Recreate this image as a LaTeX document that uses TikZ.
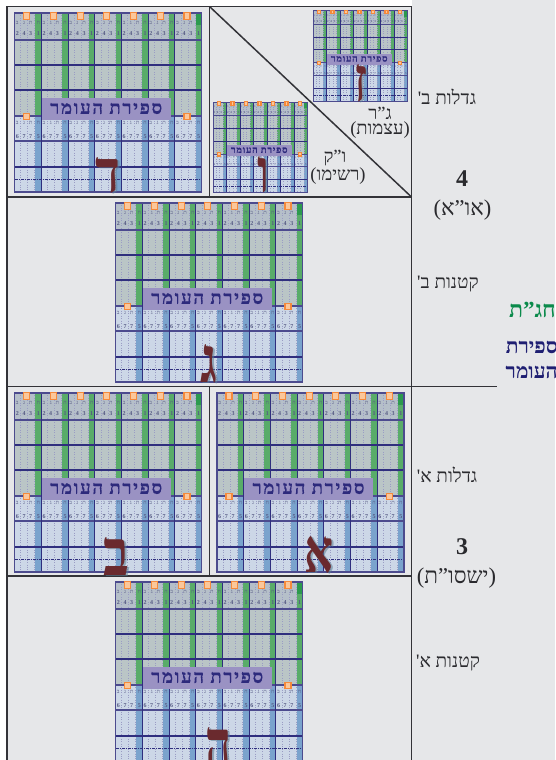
\documentclass[tikz,border=0pt]{standalone}
\usepackage{fontspec}
\usepackage{graphicx}
\TeXXeTstate=1
\newfontfamily\heb[Script=Hebrew]{Liberation Serif}
\newfontfamily\hebwide[Script=Hebrew,LetterSpace=9,BoldFeatures={FakeBold=0.4}]{Liberation Serif}
\newcommand\hfs[1]{\fontsize{#1}{#1}\selectfont}
\newcommand\rtl[1]{\beginR #1\endR}
\definecolor{pagegrey}{HTML}{E6E7E9}
\definecolor{framedark}{HTML}{333338}
\definecolor{gridblue}{HTML}{2F2E7E}
\definecolor{gridedge}{HTML}{4C4B8E}
\definecolor{cellgrey}{HTML}{BAC5C6}
\definecolor{headgrey}{HTML}{B5BFC9}
\definecolor{cellblue}{HTML}{CCD7E7}
\definecolor{stripgreen}{HTML}{59AC69}
\definecolor{stripdeep}{HTML}{2C9A4E}
\definecolor{stripblue}{HTML}{7AA3CD}
\definecolor{dotlav}{HTML}{9A9CC4}
\definecolor{bandlav}{HTML}{9A92C3}
\definecolor{titleblue}{HTML}{2D2A7C}
\definecolor{digitcol}{HTML}{565A84}
\definecolor{tagorange}{HTML}{F58A3C}
\definecolor{tagfill}{HTML}{FBC79A}
\definecolor{edgered}{HTML}{B85A6A}
\definecolor{maroon}{HTML}{6A2A2E}
\definecolor{shadowblue}{HTML}{5D7F93}
\definecolor{labelgreen}{HTML}{0B8A4B}
\definecolor{labelblue}{HTML}{1F1F72}
\definecolor{labeltext}{HTML}{2A2A2E}
\tikzset{
  frameline/.style={framedark,line width=1.5pt},
  tinyglyph/.style={inner sep=0pt,text=digitcol,font=\heb\hfs{5.6}},
  tinydigit/.style={inner sep=0pt,text=digitcol,font=\heb\bfseries\hfs{6}},
  cornertag/.style={draw=tagorange,fill=tagfill,line width=1.2pt,minimum width=6pt,minimum height=6.5pt,inner sep=0pt},
  sidelabel/.style={inner sep=0pt,text=labeltext,font=\heb\hfs{19}},
  paren/.style={inner sep=0pt,text=labeltext,font=\heb\hfs{18.5}},
  bigparen/.style={inner sep=0pt,text=labeltext,font=\heb\hfs{22.5}},
  bignum/.style={inner sep=0pt,text=labeltext,font=\heb\bfseries\hfs{24}},
}
% #1 x, #2 y, #3 scale, #4 line width factor
\newcommand\omergrid[4]{%
\begin{scope}[shift={(#1,#2)},scale=#3,transform shape]
  \def\cw{26.7}
  \fill[headgrey] (0,0) rectangle (187,27);
  \fill[cellgrey] (0,27) rectangle (187,103);
  \fill[cellblue] (0,103) rectangle (187,179);
  \foreach \c in {0,...,6}{
    \pgfmathsetmacro\xa{(\c+1)*\cw-6}
    \pgfmathsetmacro\xb{(\c+1)*\cw}
    \pgfmathsetmacro\xm{\c*\cw}
    \fill[stripgreen] (\xa,0) rectangle (\xb,103);
    \fill[stripblue] (\xa,103) rectangle (\xb,179);
    \foreach \o in {6,13,20}{
      \draw[dotlav,line width=0.45pt*#4,dotted] ({\xm+\o},0) -- ({\xm+\o},179);
    }
    \node[tinyglyph] at ({\xm+2.6},10) {ב};
    \node[tinyglyph] at ({\xm+9.3},10) {ג};
    \node[tinyglyph] at ({\xm+16},10) {ת};
    \node[tinyglyph] at ({\xm+23.6},10) {ח};
    \node[tinydigit] at ({\xm+2.6},21) {2};
    \node[tinydigit] at ({\xm+9.3},21) {4};
    \node[tinydigit] at ({\xm+16},21) {3};
    \node[tinydigit] at ({\xm+23.6},21) {1};
    \node[tinyglyph] at ({\xm+2.6},110) {ב};
    \node[tinyglyph] at ({\xm+9.3},110) {ג};
    \node[tinyglyph] at ({\xm+16},110) {ת};
    \node[tinyglyph] at ({\xm+23.6},110) {ח};
    \node[tinydigit] at ({\xm+2.6},124) {6};
    \node[tinydigit] at ({\xm+9.3},124) {7};
    \node[tinydigit] at ({\xm+16},124) {7};
    \node[tinydigit] at ({\xm+23.6},124) {5};
  }
  \fill[stripdeep] ({7*\cw-6},0) rectangle ({7*\cw},12);
  \foreach \r in {52,77,154}{
    \draw[gridblue,line width=1.2pt*#4] (0,\r) -- (187,\r);
  }
  \foreach \r in {27,103,128}{
    \draw[gridedge,line width=1.5pt*#4] (0,\r) -- (187,\r);
  }
  \foreach \c in {1,...,6}{
    \draw[gridblue,line width=1.1pt*#4] ({\c*\cw},0) -- ({\c*\cw},179);
  }
  \draw[gridblue,line width=0.9pt*#4,dash pattern=on 3pt off 1pt on 1pt off 1pt] (0,166.5) -- (187,166.5);
  \draw[gridedge,line width=1.5pt*#4] (0,0) rectangle (187,179);
  \fill[bandlav] (27,85) rectangle (156,107);
  \node[inner sep=0pt,text=titleblue,font=\hebwide\bfseries\hfs{18.6}] at (91.5,95.5) {\rtl{ספירת העומר}};
  \foreach \c in {0,...,6}{
    \node[cornertag] at ({12+\c*\cw},3) {};
  }
  \node[cornertag] at (12,103.5) {};
  \node[cornertag] at ({12+6*\cw},103.5) {};
\end{scope}}
% #1 name, #2 centre, #3 width, #4 height, #5 letter
\newcommand\bigletter[5]{%
  \node[inner sep=0pt,text=shadowblue,opacity=0.55] at ($#2+(2,1)$) {\resizebox{#3pt}{#4pt}{\heb\bfseries\rtl{#5}}};
  \node[inner sep=0pt,text=maroon] (#1) at #2 {\resizebox{#3pt}{#4pt}{\heb\bfseries\rtl{#5}}};
}
\usetikzlibrary{calc}
\begin{document}
\begin{tikzpicture}[x=1pt,y=-1pt]
\useasboundingbox (0,0) rectangle (555,760);
\clip (0,0) rectangle (555,760);
\fill[white] (0,0) rectangle (555,760);
\fill[pagegrey] (7,6.5) rectangle (555,760);
\fill[pagegrey] (412,0) rectangle (555,760);
% frame
\coordinate (tl) at (7,6.5);
\coordinate (tr) at (411.5,6.5);
\coordinate (bl) at (7,760);
\coordinate (br) at (411.5,760);
\draw[frameline] (tl) -- (tr);
\draw[frameline] (tl) -- (bl);
\draw[frameline] (tr) -- (br);
\coordinate (m1) at (209.5,6.5);
\coordinate (m2) at (209.5,197);
\coordinate (r2) at (411.5,197);
\draw[frameline] (m1) -- (m2);
\draw[frameline] (7,197) -- (r2);
\draw[frameline] (m1) -- (r2);
\draw[frameline] (7,386.5) -- (497,386.5);
\draw[frameline] (7,576) -- (411.5,576);
\draw[frameline] (209.5,386.5) -- (209.5,576);
% grids
\omergrid{14.7}{13}{1}{1}
\omergrid{313}{10.7}{0.505}{0.6}
\omergrid{213}{102}{0.505}{0.6}
\omergrid{115.7}{203}{1}{1}
\omergrid{14.7}{393}{1}{1}
\omergrid{217}{393}{1}{1}
\omergrid{115.7}{582}{1}{1}
% letters
\bigletter{ldalet}{(108,175.5)}{25}{35}{ד}
\bigletter{lzayin}{(361,83)}{13}{37}{ז}
\bigletter{lvav}{(263,175)}{12}{36}{ו}
\bigletter{lgimel}{(209,364)}{17}{38}{ג}
\bigletter{lbet}{(117,556)}{26}{38}{ב}
\bigletter{lalef}{(319,555)}{29}{36}{א}
\bigletter{lhe}{(218,750)}{26}{44}{ה}
% labels
\node[sidelabel] (a) at (447,97) {\rtl{גדלות ב'}};
\node[bignum] (b) at (462,179) {4};
\node[bigparen] (c) at (462.5,210) {\rtl{(או”א)}};
\node[sidelabel] (d) at (448,284) {\rtl{קטנות ב'}};
\node[inner sep=0pt,anchor=east,text=labelgreen,font=\heb\bfseries\hfs{23}] (e) at (556,310) {\rtl{חג”ת}};
\node[inner sep=0pt,anchor=east,text=labelblue,font=\heb\bfseries\hfs{21}] (f) at (558,347) {\rtl{ספירת}};
\node[inner sep=0pt,anchor=east,text=labelblue,font=\heb\bfseries\hfs{21}] (g) at (558,372) {\rtl{העומר}};
\node[sidelabel] (h) at (447,475) {\rtl{גדלות א'}};
\node[bignum] (i) at (462,547) {3};
\node[bigparen] (j) at (456.5,578) {\rtl{(ישסו”ת)}};
\node[sidelabel] (k) at (448,663) {\rtl{קטנות א'}};
\node[paren] (l) at (380,113) {\rtl{ג”ר}};
\node[paren] (m) at (380,130) {\rtl{(עצמות)}};
\node[paren] (n) at (335,158) {\rtl{ו”ק}};
\node[paren] (o) at (338,176) {\rtl{(רשימו)}};
\end{tikzpicture}
\end{document}
